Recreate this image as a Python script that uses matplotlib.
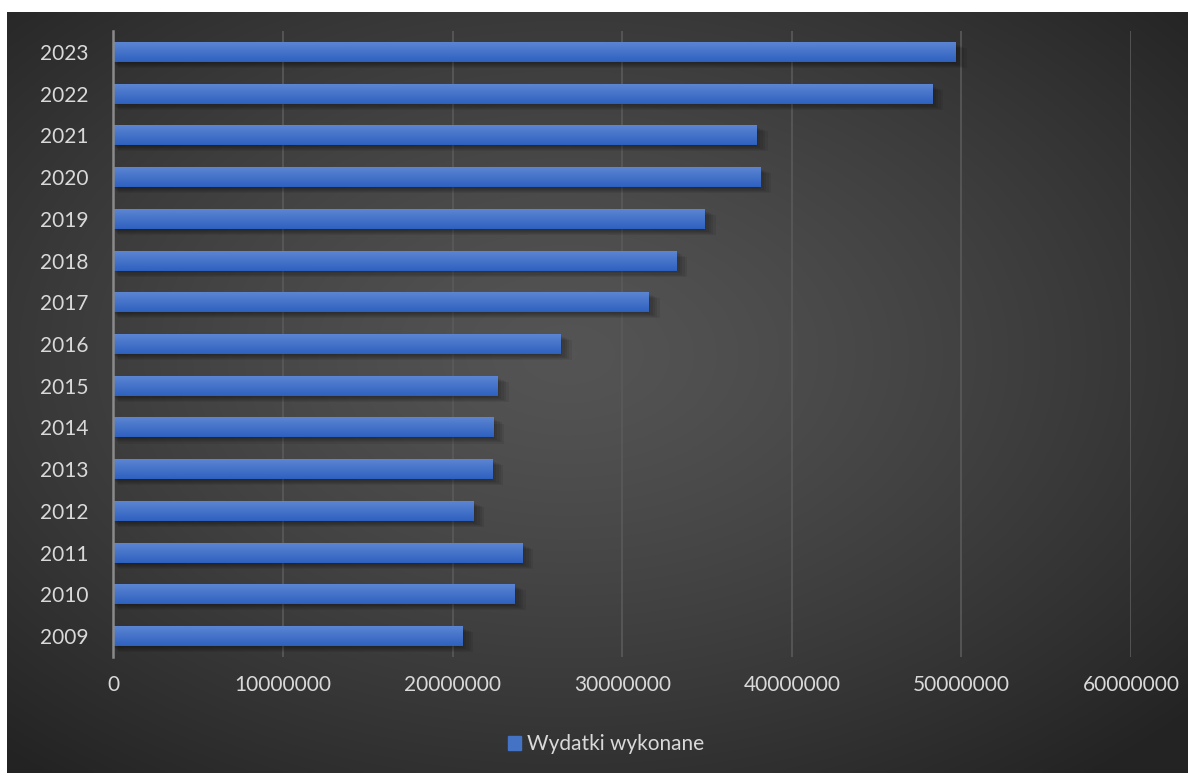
import numpy as np
import matplotlib
matplotlib.use("Agg")
import matplotlib.pyplot as plt
from matplotlib.patches import Rectangle

# dane
years = ["2009", "2010", "2011", "2012", "2013", "2014", "2015", "2016",
         "2017", "2018", "2019", "2020", "2021", "2022", "2023"]
wydatki = [20600000, 23700000, 24150000, 21250000, 22380000, 22440000, 22680000,
           26400000, 31600000, 33200000, 34900000, 38150000, 37950000, 48300000, 49700000]
x_ticks = [0, 10000000, 20000000, 30000000, 40000000, 50000000, 60000000]
legend_label = "Wydatki wykonane"

plt.rcParams["font.family"] = ["Lato", "DejaVu Sans"]
TXT = "#d9d9d9"

fig = plt.figure(figsize=(11.88, 7.76), dpi=100)
fig.patch.set_facecolor("white")

# tlo: ciemny panel z gradientem radialnym
bg = fig.add_axes([7 / 1188, 3 / 776, 1181 / 1188, 761 / 776])
yy, xx = np.mgrid[-1:1:300j, -1:1:450j]
r = np.sqrt((xx + 0.05) ** 2 + (yy + 0.1) ** 2) / np.sqrt(2)
shade = 0.33 - 0.19 * np.clip(r, 0, 1) ** 1.3
img = np.dstack([shade, shade, shade])
bg.imshow(img, aspect="auto", extent=[0, 1, 0, 1], interpolation="bicubic")
bg.set_axis_off()

ax = fig.add_axes([113.4 / 1188, 119 / 776, 1017.6 / 1188, 626 / 776])
ax.set_facecolor("none")
ax.set_xlim(0, 60000000)
ax.set_ylim(-0.5, len(years) - 0.5)

pos = np.arange(len(years))
h = 0.48
bars = ax.barh(pos, wydatki, height=h, color="#4472c4", zorder=3,
               label=legend_label)

# cien i gradient slupkow
grad = np.linspace(0, 1, 64).reshape(-1, 1)
top_c = np.array([0.37, 0.53, 0.83])
bot_c = np.array([0.18, 0.38, 0.75])
gimg = (top_c * (1 - grad)[..., None] + bot_c * grad[..., None]).reshape(64, 1, 3)
for b in bars:
    x0, y0 = b.get_x(), b.get_y()
    w, hh = b.get_width(), b.get_height()
    for k in range(6):
        ax.add_patch(Rectangle((x0 + 60000 * k, y0 - 0.02 - 0.025 * k), w + 80000 * (k - 1), hh,
                               color="black", alpha=0.07, lw=0, zorder=2))
    im = ax.imshow(gimg, extent=[x0, x0 + w, y0, y0 + hh], aspect="auto",
                   zorder=3.5, interpolation="bilinear", origin="upper")
    im.set_clip_path(b)
ax.set_ylim(-0.5, len(years) - 0.5)
ax.set_xlim(0, 60000000)

ax.set_xticks(x_ticks)
ax.set_xticklabels([str(v) for v in x_ticks])
ax.set_yticks(pos)
ax.set_yticklabels(years)
ax.tick_params(axis="both", length=0, colors=TXT, labelsize=15)
ax.tick_params(axis="x", pad=13)
ax.tick_params(axis="y", pad=18)
ax.grid(axis="x", color="#5a5a5a", lw=1.2, zorder=1)
for s in ["top", "right", "bottom"]:
    ax.spines[s].set_visible(False)
ax.spines["left"].set_color("#8a8a8a")
ax.spines["left"].set_linewidth(1.8)
ax.spines["left"].set_zorder(4)

leg = fig.legend(handles=[Rectangle((0, 0), 1, 1, color="#4472c4")],
                 labels=[legend_label], loc="center", bbox_to_anchor=(0.51, 1 - 744 / 776),
                 frameon=False, fontsize=15, handlelength=0.65, handleheight=0.65,
                 handletextpad=0.25, labelcolor=TXT)

fig.savefig("out.png", dpi=100)
